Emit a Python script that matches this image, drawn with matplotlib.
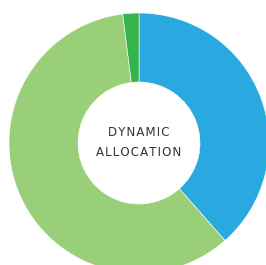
import matplotlib
matplotlib.use("Agg")
import matplotlib.pyplot as plt

# valeurs (en %)
labels = ["Blue", "Light green", "Dark green"]
values = [38.5, 59.5, 2.0]
colors = ["#29a9e0", "#99cf78", "#34b44a"]
center_lines = ["DYNAMIC", "ALLOCATION"]

W, H = 266, 265
fig = plt.figure(figsize=(W / 100, H / 100), dpi=100)
ax = fig.add_axes([0, 0, 1, 1])

cx, cy = 139, H - 143
R = 130
ax.pie(values, colors=colors, startangle=90, counterclock=False,
       center=(cx, cy), radius=R, frame=True,
       wedgeprops=dict(width=R - 61, edgecolor="white", linewidth=0.4))
ax.set_xlim(0, W)
ax.set_ylim(0, H)
ax.set_aspect("equal")
ax.axis("off")

# espacement des lettres (hair space) pour imiter la police large
sp = "\u200a"
for i, line in enumerate(center_lines):
    ax.text(cx, cy + 11 - 20 * i, sp.join(line), ha="center", va="center",
            fontsize=8.5, color="#333333", fontfamily="DejaVu Sans")

fig.savefig("out.png", dpi=100)
